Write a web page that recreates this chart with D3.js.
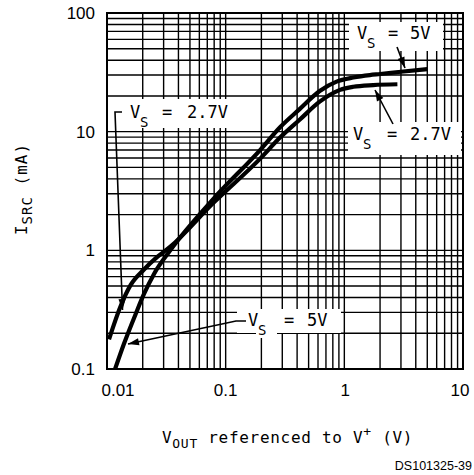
<!DOCTYPE html>
<html>
<head>
<meta charset="utf-8">
<script src="https://cdn.jsdelivr.net/npm/d3@7"></script>
<style>
  html, body { margin: 0; padding: 0; background: #fff; }
  svg { display: block; }
</style>
</head>
<body>
<svg id="chart" width="474" height="475"></svg>
<script>
// ---- data ----
const xTickLabels = ["0.01", "0.1", "1", "10"];
const xTickValues = [0.01, 0.1, 1, 10];
const yTickLabels = ["0.1", "1", "10", "100"];
const yTickValues = [0.1, 1, 10, 100];

const seriesNames = ["VS = 5V", "VS = 2.7V"];
const vs5X  = [0.0117, 0.0139, 0.01745, 0.0205, 0.0249, 0.0344, 0.0785, 0.195, 0.29, 0.42, 0.62, 0.86, 1.19, 1.64, 2.0, 3.0, 5.0];
const vs5Y  = [0.1, 0.163, 0.291, 0.429, 0.633, 1.01, 2.7, 7.0, 11.0, 15.5, 22.0, 26.4, 28.6, 30.0, 30.6, 32.0, 33.6];
const vs27X = [0.0104, 0.01304, 0.01584, 0.0205, 0.02653, 0.0344, 0.0785, 0.1945, 0.29, 0.42, 0.62, 0.92, 1.19, 1.75, 2.8];
const vs27Y = [0.178, 0.340, 0.511, 0.69, 0.88, 1.08, 2.5, 5.9, 9.0, 12.6, 17.9, 22.5, 23.9, 24.7, 25.1];

// ---- layout ----
const L = 107, R = 463, T = 13, B = 369;
const svg = d3.select("#chart");
const x = d3.scaleLog().domain([0.01, 10]).range([L, R]);
const y = d3.scaleLog().domain([0.1, 100]).range([B, T]);

const MONO = "'DejaVu Sans Mono', monospace";
const SANS = "'Liberation Sans', Arial, sans-serif";

// grid
const gGrid = svg.append("g").attr("stroke", "#000").attr("stroke-width", 1.4);
gGrid.selectAll("line.vx").data(x.ticks()).join("line")
  .attr("x1", d => x(d)).attr("x2", d => x(d)).attr("y1", T).attr("y2", B);
gGrid.selectAll("line.hy").data(y.ticks()).join("line")
  .attr("y1", d => y(d)).attr("y2", d => y(d)).attr("x1", L).attr("x2", R);

// curves
svg.append("clipPath").attr("id", "clip").append("rect")
  .attr("x", L).attr("y", T).attr("width", R - L).attr("height", B - T);
const line = d3.line().x(d => x(d[0])).y(d => y(d[1])).curve(d3.curveMonotoneX);
const series = [d3.zip(vs5X, vs5Y), d3.zip(vs27X, vs27Y)];
svg.append("g").attr("clip-path", "url(#clip)")
  .selectAll("path").data(series).join("path")
  .attr("d", line).attr("fill", "none").attr("stroke", "#000")
  .attr("stroke-width", 4.2).attr("stroke-linejoin", "round");

// frame
svg.append("rect").attr("x", L).attr("y", T).attr("width", R - L).attr("height", B - T)
  .attr("fill", "none").attr("stroke", "#000").attr("stroke-width", 2);

// tick labels
const xOff = [11, 0, 1, -3];
svg.append("g").selectAll("text").data(xTickValues).join("text")
  .attr("x", (d, i) => x(d) + xOff[i]).attr("y", 396)
  .attr("text-anchor", "middle").attr("font-family", SANS).attr("font-size", 17)
  .text((d, i) => xTickLabels[i]);
svg.append("g").selectAll("text").data(yTickValues).join("text")
  .attr("x", 95).attr("y", d => y(d) + 6)
  .attr("text-anchor", "end").attr("font-family", SANS).attr("font-size", 17)
  .text((d, i) => yTickLabels[i]);

// axis titles
const xt = svg.append("text").attr("x", 162).attr("y", 443)
  .attr("font-family", MONO).attr("font-size", 16).attr("letter-spacing", 0.7);
xt.append("tspan").text("V");
xt.append("tspan").attr("font-size", 13).attr("dy", 5).text("OUT");
xt.append("tspan").attr("dy", -5).text(" referenced to V");
xt.append("tspan").attr("font-size", 13).attr("dy", -7).text("+");
xt.append("tspan").attr("dy", 7).text(" (V)");

const yt = svg.append("text").attr("transform", "translate(27,189) rotate(-90)")
  .attr("text-anchor", "middle").attr("font-family", MONO).attr("font-size", 16)
  .attr("letter-spacing", 1);
yt.append("tspan").text("I");
yt.append("tspan").attr("font-size", 14).attr("dy", 5).text("SRC");
yt.append("tspan").attr("dy", -5).text(" (mA)");

svg.append("text").attr("x", 472).attr("y", 470).attr("text-anchor", "end")
  .attr("font-family", SANS).attr("font-size", 12.5).text("DS101325-39");

// annotation boxes
const boxes = [[113, 99, 119, 29], [349, 22, 94, 29], [348, 122, 113, 33], [237, 309, 104, 24], [256, 330, 21, 8]];
svg.append("g").selectAll("rect").data(boxes).join("rect")
  .attr("x", d => d[0]).attr("y", d => d[1]).attr("width", d => d[2]).attr("height", d => d[3])
  .attr("fill", "#fff");

function label(xV, yb, val, eqOff, valOff) {
  const g = svg.append("g").attr("font-family", MONO).attr("font-size", 17);
  g.append("text").attr("x", xV).attr("y", yb).text("V");
  g.append("text").attr("x", xV + 10).attr("y", yb + 9).attr("font-size", 14).text("S");
  g.append("text").attr("x", xV + eqOff).attr("y", yb).text("=");
  g.append("text").attr("x", xV + valOff).attr("y", yb).text(val);
}
label(130, 118, "2.7V", 32, 57);
label(357, 39, "5V", 31, 53);
label(353, 140, "2.7V", 34, 57);
label(248, 326, "5V", 36, 59);

// arrows
function arrow(pts) {
  svg.append("path").attr("d", d3.line()(pts)).attr("fill", "none")
    .attr("stroke", "#000").attr("stroke-width", 1.6);
  const [x0, y0] = pts[pts.length - 2], [x1, y1] = pts[pts.length - 1];
  const a = Math.atan2(y1 - y0, x1 - x0), len = 11, w = 3.6;
  const bx = x1 - len * Math.cos(a), by = y1 - len * Math.sin(a);
  const nx = -Math.sin(a) * w, ny = Math.cos(a) * w;
  svg.append("path").attr("d", `M${x1},${y1}L${bx + nx},${by + ny}L${bx - nx},${by - ny}Z`)
    .attr("fill", "#000");
}
arrow([[122, 112], [115, 112], [122.5, 310]]);
arrow([[397, 47], [405, 68]]);
arrow([[393, 124], [375, 90]]);
arrow([[246, 321], [236, 321], [128, 344]]);
</script>
</body>
</html>
